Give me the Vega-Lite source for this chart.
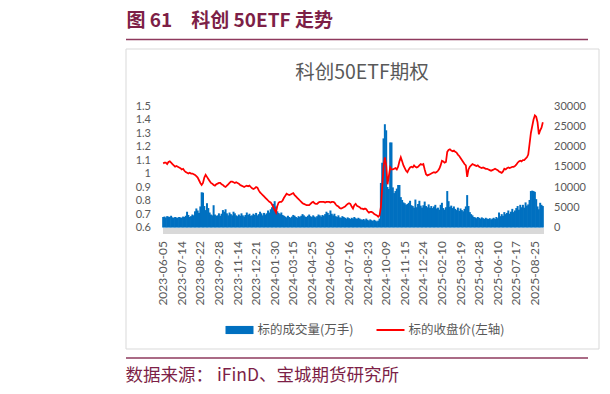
{
  "$schema": "https://vega.github.io/schema/vega-lite/v6.json",
  "padding": {"left": 124.5, "top": 12, "right": 0, "bottom": 0},
  "background": "white",
  "spacing": 9.5,
  "bounds": "flush",
  "config": {"view": {"stroke": null}, "font": "Noto Sans CJK SC"},
  "datasets": {
    "etf": [
      {"d":"2023-06-05","v":2600,"p":1.075},{"d":"2023-06-07","v":2700,"p":1.08},{"d":"2023-06-09","v":2500,"p":1.08},{"d":"2023-06-13","v":2800,"p":1.07},{"d":"2023-06-15","v":2700,"p":1.085},{"d":"2023-06-19","v":2600,"p":1.09},{"d":"2023-06-21","v":2900,"p":1.08},{"d":"2023-06-27","v":2500,"p":1.07},{"d":"2023-06-29","v":2400,"p":1.06},{"d":"2023-07-03","v":2600,"p":1.05},{"d":"2023-07-05","v":2500,"p":1.055},{"d":"2023-07-07","v":2400,"p":1.05},{"d":"2023-07-11","v":2600,"p":1.045},{"d":"2023-07-13","v":2500,"p":1.04},
      {"d":"2023-07-14","v":2400,"p":1.03},{"d":"2023-07-18","v":2700,"p":1.035},{"d":"2023-07-20","v":2600,"p":1.02},{"d":"2023-07-24","v":2900,"p":1.01},{"d":"2023-07-26","v":3900,"p":1.005},{"d":"2023-07-28","v":3100,"p":1.0},{"d":"2023-08-01","v":2600,"p":1.005},{"d":"2023-08-03","v":2800,"p":1.0},{"d":"2023-08-07","v":3200,"p":1.0},{"d":"2023-08-09","v":3000,"p":0.995},{"d":"2023-08-11","v":4000,"p":0.99},{"d":"2023-08-15","v":4700,"p":0.98},{"d":"2023-08-17","v":4200,"p":0.97},{"d":"2023-08-21","v":3600,"p":0.95},
      {"d":"2023-08-22","v":5200,"p":0.93},{"d":"2023-08-24","v":8700,"p":0.915},{"d":"2023-08-28","v":8600,"p":0.93},{"d":"2023-08-30","v":5300,"p":0.97},{"d":"2023-09-01","v":4300,"p":0.99},{"d":"2023-09-05","v":6000,"p":0.975},{"d":"2023-09-07","v":4800,"p":0.96},{"d":"2023-09-11","v":3700,"p":0.945},{"d":"2023-09-13","v":3200,"p":0.93},{"d":"2023-09-15","v":3000,"p":0.925},{"d":"2023-09-19","v":5500,"p":0.915},{"d":"2023-09-21","v":3200,"p":0.91},{"d":"2023-09-25","v":2900,"p":0.92},{"d":"2023-09-27","v":3000,"p":0.925},
      {"d":"2023-09-28","v":3500,"p":0.93},{"d":"2023-10-10","v":2900,"p":0.93},{"d":"2023-10-12","v":3400,"p":0.92},{"d":"2023-10-16","v":4300,"p":0.915},{"d":"2023-10-18","v":3900,"p":0.905},{"d":"2023-10-20","v":4500,"p":0.9},{"d":"2023-10-24","v":3500,"p":0.91},{"d":"2023-10-26","v":3000,"p":0.92},{"d":"2023-10-30","v":3700,"p":0.93},{"d":"2023-11-01","v":3300,"p":0.94},{"d":"2023-11-03","v":3000,"p":0.94},{"d":"2023-11-07","v":3900,"p":0.935},{"d":"2023-11-09","v":3500,"p":0.93},{"d":"2023-11-13","v":3000,"p":0.935},
      {"d":"2023-11-14","v":2800,"p":0.93},{"d":"2023-11-16","v":3200,"p":0.925},{"d":"2023-11-20","v":2900,"p":0.915},{"d":"2023-11-22","v":3500,"p":0.91},{"d":"2023-11-24","v":3000,"p":0.905},{"d":"2023-11-28","v":2700,"p":0.9},{"d":"2023-11-30","v":3100,"p":0.905},{"d":"2023-12-04","v":3700,"p":0.91},{"d":"2023-12-06","v":3100,"p":0.905},{"d":"2023-12-08","v":3400,"p":0.91},{"d":"2023-12-12","v":2900,"p":0.9},{"d":"2023-12-14","v":3000,"p":0.89},{"d":"2023-12-18","v":3400,"p":0.885},{"d":"2023-12-20","v":3100,"p":0.89},
      {"d":"2023-12-21","v":3600,"p":0.9},{"d":"2023-12-25","v":3000,"p":0.895},{"d":"2023-12-27","v":3300,"p":0.875},{"d":"2023-12-29","v":3900,"p":0.86},{"d":"2024-01-03","v":3500,"p":0.85},{"d":"2024-01-05","v":3000,"p":0.84},{"d":"2024-01-09","v":3600,"p":0.83},{"d":"2024-01-11","v":3200,"p":0.82},{"d":"2024-01-15","v":3500,"p":0.81},{"d":"2024-01-17","v":4200,"p":0.8},{"d":"2024-01-19","v":3700,"p":0.79},{"d":"2024-01-23","v":4500,"p":0.785},{"d":"2024-01-25","v":5000,"p":0.77},{"d":"2024-01-29","v":5800,"p":0.75},
      {"d":"2024-01-30","v":6500,"p":0.73},{"d":"2024-02-01","v":5200,"p":0.71},{"d":"2024-02-05","v":4000,"p":0.76},{"d":"2024-02-07","v":3600,"p":0.785},{"d":"2024-02-19","v":3300,"p":0.79},{"d":"2024-02-21","v":3700,"p":0.79},{"d":"2024-02-23","v":3100,"p":0.8},{"d":"2024-02-27","v":2900,"p":0.82},{"d":"2024-02-29","v":2700,"p":0.835},{"d":"2024-03-04","v":2500,"p":0.85},{"d":"2024-03-06","v":2900,"p":0.845},{"d":"2024-03-08","v":2600,"p":0.84},{"d":"2024-03-12","v":2400,"p":0.845},{"d":"2024-03-14","v":2700,"p":0.85},
      {"d":"2024-03-15","v":3100,"p":0.855},{"d":"2024-03-19","v":2900,"p":0.84},{"d":"2024-03-21","v":2600,"p":0.83},{"d":"2024-03-25","v":2400,"p":0.82},{"d":"2024-03-27","v":2800,"p":0.81},{"d":"2024-03-29","v":2600,"p":0.8},{"d":"2024-04-02","v":2900,"p":0.79},{"d":"2024-04-08","v":3300,"p":0.78},{"d":"2024-04-10","v":3000,"p":0.775},{"d":"2024-04-12","v":2700,"p":0.77},{"d":"2024-04-16","v":2600,"p":0.765},{"d":"2024-04-18","v":2900,"p":0.765},{"d":"2024-04-22","v":3200,"p":0.765},{"d":"2024-04-24","v":2800,"p":0.775},
      {"d":"2024-04-25","v":2600,"p":0.785},{"d":"2024-04-29","v":3000,"p":0.79},{"d":"2024-05-06","v":2700,"p":0.78},{"d":"2024-05-08","v":2500,"p":0.775},{"d":"2024-05-10","v":2800,"p":0.775},{"d":"2024-05-14","v":3200,"p":0.785},{"d":"2024-05-16","v":3000,"p":0.79},{"d":"2024-05-20","v":2700,"p":0.79},{"d":"2024-05-22","v":3100,"p":0.79},{"d":"2024-05-24","v":2900,"p":0.79},{"d":"2024-05-28","v":3300,"p":0.785},{"d":"2024-05-30","v":3900,"p":0.79},{"d":"2024-06-03","v":3600,"p":0.79},{"d":"2024-06-05","v":3100,"p":0.79},
      {"d":"2024-06-06","v":4200,"p":0.785},{"d":"2024-06-11","v":3400,"p":0.79},{"d":"2024-06-13","v":3000,"p":0.79},{"d":"2024-06-17","v":3400,"p":0.785},{"d":"2024-06-19","v":2800,"p":0.77},{"d":"2024-06-21","v":2600,"p":0.76},{"d":"2024-06-25","v":3000,"p":0.755},{"d":"2024-06-27","v":2500,"p":0.745},{"d":"2024-07-01","v":2400,"p":0.74},{"d":"2024-07-03","v":2800,"p":0.745},{"d":"2024-07-05","v":2600,"p":0.75},{"d":"2024-07-09","v":2400,"p":0.755},{"d":"2024-07-11","v":2200,"p":0.765},{"d":"2024-07-15","v":2500,"p":0.775},
      {"d":"2024-07-16","v":2300,"p":0.78},{"d":"2024-07-18","v":2100,"p":0.775},{"d":"2024-07-22","v":2400,"p":0.755},{"d":"2024-07-24","v":2200,"p":0.74},{"d":"2024-07-26","v":2600,"p":0.765},{"d":"2024-07-30","v":2300,"p":0.775},{"d":"2024-08-01","v":2100,"p":0.76},{"d":"2024-08-05","v":2400,"p":0.755},{"d":"2024-08-07","v":2200,"p":0.75},{"d":"2024-08-09","v":2000,"p":0.74},{"d":"2024-08-13","v":1900,"p":0.74},{"d":"2024-08-15","v":2100,"p":0.735},{"d":"2024-08-19","v":1800,"p":0.74},{"d":"2024-08-21","v":2200,"p":0.735},
      {"d":"2024-08-23","v":1900,"p":0.72},{"d":"2024-08-27","v":1700,"p":0.71},{"d":"2024-08-29","v":2000,"p":0.715},{"d":"2024-09-02","v":1800,"p":0.715},{"d":"2024-09-04","v":1600,"p":0.71},{"d":"2024-09-06","v":1900,"p":0.7},{"d":"2024-09-10","v":1700,"p":0.695},{"d":"2024-09-12","v":1500,"p":0.69},{"d":"2024-09-18","v":1700,"p":0.68},{"d":"2024-09-20","v":2200,"p":0.69},{"d":"2024-09-24","v":11000,"p":0.75},{"d":"2024-09-26","v":16000,"p":0.9},{"d":"2024-09-30","v":22000,"p":1.05},{"d":"2024-10-08","v":25500,"p":1.12},
      {"d":"2024-10-09","v":24000,"p":1.06},{"d":"2024-10-11","v":10000,"p":0.92},{"d":"2024-10-15","v":9500,"p":0.98},{"d":"2024-10-17","v":21000,"p":1.045},{"d":"2024-10-21","v":21000,"p":1.03},{"d":"2024-10-23","v":9900,"p":1.03},{"d":"2024-10-25","v":8500,"p":1.035},{"d":"2024-10-29","v":9000,"p":1.04},{"d":"2024-10-31","v":9600,"p":1.03},{"d":"2024-11-04","v":10500,"p":1.05},{"d":"2024-11-06","v":10500,"p":1.09},{"d":"2024-11-08","v":7500,"p":1.12},{"d":"2024-11-12","v":6800,"p":1.09},{"d":"2024-11-14","v":6200,"p":1.06},
      {"d":"2024-11-15","v":6000,"p":1.04},{"d":"2024-11-19","v":5600,"p":1.02},{"d":"2024-11-21","v":5800,"p":1.01},{"d":"2024-11-25","v":6100,"p":1.03},{"d":"2024-11-27","v":6600,"p":1.045},{"d":"2024-11-29","v":5500,"p":1.05},{"d":"2024-12-03","v":5300,"p":1.045},{"d":"2024-12-05","v":4900,"p":1.06},{"d":"2024-12-09","v":6900,"p":1.05},{"d":"2024-12-11","v":5000,"p":1.045},{"d":"2024-12-13","v":5800,"p":1.05},{"d":"2024-12-17","v":6600,"p":1.06},{"d":"2024-12-19","v":5400,"p":1.07},{"d":"2024-12-23","v":4900,"p":1.065},
      {"d":"2024-12-24","v":5500,"p":1.07},{"d":"2024-12-26","v":6400,"p":1.03},{"d":"2024-12-30","v":5300,"p":0.995},{"d":"2025-01-02","v":5000,"p":0.985},{"d":"2025-01-06","v":5700,"p":0.99},{"d":"2025-01-08","v":4900,"p":0.995},{"d":"2025-01-10","v":5300,"p":1.0},{"d":"2025-01-14","v":4800,"p":1.005},{"d":"2025-01-16","v":5200,"p":1.01},{"d":"2025-01-20","v":5600,"p":1.005},{"d":"2025-01-22","v":4700,"p":1.01},{"d":"2025-01-24","v":4900,"p":1.02},{"d":"2025-02-05","v":4400,"p":1.035},{"d":"2025-02-07","v":5600,"p":1.06},
      {"d":"2025-02-10","v":6100,"p":1.095},{"d":"2025-02-12","v":4800,"p":1.09},{"d":"2025-02-14","v":4400,"p":1.08},{"d":"2025-02-18","v":5000,"p":1.085},{"d":"2025-02-20","v":9000,"p":1.16},{"d":"2025-02-24","v":6500,"p":1.175},{"d":"2025-02-26","v":5100,"p":1.18},{"d":"2025-02-28","v":5400,"p":1.17},{"d":"2025-03-04","v":4800,"p":1.165},{"d":"2025-03-06","v":5200,"p":1.17},{"d":"2025-03-10","v":4600,"p":1.16},{"d":"2025-03-12","v":4300,"p":1.155},{"d":"2025-03-14","v":4900,"p":1.14},{"d":"2025-03-18","v":4100,"p":1.13},
      {"d":"2025-03-19","v":4700,"p":1.115},{"d":"2025-03-21","v":4300,"p":1.1},{"d":"2025-03-25","v":4000,"p":1.085},{"d":"2025-03-27","v":4600,"p":1.07},{"d":"2025-03-31","v":5200,"p":1.06},{"d":"2025-04-02","v":8000,"p":0.975},{"d":"2025-04-07","v":5300,"p":1.03},{"d":"2025-04-09","v":3800,"p":1.05},{"d":"2025-04-11","v":3300,"p":1.06},{"d":"2025-04-15","v":3000,"p":1.07},{"d":"2025-04-17","v":2600,"p":1.065},{"d":"2025-04-21","v":2500,"p":1.06},{"d":"2025-04-23","v":2300,"p":1.055},{"d":"2025-04-25","v":2600,"p":1.06},
      {"d":"2025-04-28","v":2400,"p":1.05},{"d":"2025-04-30","v":2200,"p":1.045},{"d":"2025-05-07","v":2500,"p":1.04},{"d":"2025-05-09","v":2300,"p":1.045},{"d":"2025-05-13","v":2100,"p":1.04},{"d":"2025-05-15","v":2400,"p":1.035},{"d":"2025-05-19","v":2200,"p":1.035},{"d":"2025-05-21","v":2100,"p":1.03},{"d":"2025-05-23","v":2300,"p":1.025},{"d":"2025-05-27","v":2000,"p":1.02},{"d":"2025-05-29","v":2200,"p":1.025},{"d":"2025-06-03","v":2400,"p":1.03},{"d":"2025-06-05","v":2100,"p":1.035},{"d":"2025-06-09","v":2600,"p":1.03},
      {"d":"2025-06-10","v":2300,"p":1.025},{"d":"2025-06-12","v":3700,"p":1.015},{"d":"2025-06-16","v":2800,"p":1.01},{"d":"2025-06-18","v":3300,"p":1.005},{"d":"2025-06-20","v":2900,"p":1.015},{"d":"2025-06-24","v":3800,"p":1.035},{"d":"2025-06-26","v":3300,"p":1.03},{"d":"2025-06-30","v":3600,"p":1.04},{"d":"2025-07-02","v":4200,"p":1.045},{"d":"2025-07-04","v":3400,"p":1.04},{"d":"2025-07-08","v":3900,"p":1.045},{"d":"2025-07-10","v":4600,"p":1.05},{"d":"2025-07-14","v":3800,"p":1.05},{"d":"2025-07-16","v":4200,"p":1.055},
      {"d":"2025-07-17","v":4800,"p":1.065},{"d":"2025-07-21","v":5300,"p":1.08},{"d":"2025-07-23","v":4400,"p":1.09},{"d":"2025-07-25","v":5600,"p":1.095},{"d":"2025-07-29","v":5000,"p":1.09},{"d":"2025-07-31","v":5600,"p":1.1},{"d":"2025-08-04","v":4900,"p":1.1},{"d":"2025-08-06","v":6200,"p":1.11},{"d":"2025-08-08","v":5400,"p":1.12},{"d":"2025-08-12","v":5700,"p":1.14},{"d":"2025-08-14","v":6800,"p":1.22},{"d":"2025-08-18","v":9000,"p":1.3},{"d":"2025-08-20","v":9100,"p":1.35},{"d":"2025-08-22","v":9000,"p":1.4},
      {"d":"2025-08-25","v":8800,"p":1.43},{"d":"2025-08-27","v":7000,"p":1.42},{"d":"2025-08-29","v":5200,"p":1.38},{"d":"2025-09-02","v":4500,"p":1.29},{"d":"2025-09-04","v":6100,"p":1.32},{"d":"2025-09-08","v":5600,"p":1.34},{"d":"2025-09-10","v":5300,"p":1.38}
    ]
  },
  "vconcat": [
    {
      "width": 462,
      "height": 0,
      "data": {"values": []},
      "mark": {"type": "point", "opacity": 0},
      "encoding": {
        "x": {"field": "a", "type": "quantitative", "scale": {"domain": [0, 1]},
          "axis": {"labels": false, "ticks": false, "grid": false, "title": null, "domainColor": "#8E3A5E", "domainWidth": 1.5}}
      },
      "title": {"text": "图 61　科创 50ETF 走势", "anchor": "start", "frame": "group", "dx": 1, "offset": -12, "fontSize": 19, "font": "Noto Sans CJK SC", "fontWeight": "bold", "color": "#7D1F47"}
    },
    {
      "width": 473,
      "height": 300,
      "view": {"stroke": "#D9D9D9", "strokeWidth": 1},
      "data": {"name": "etf"},
      "title": {"text": "科创50ETF期权", "anchor": "middle", "offset": -34.5, "fontSize": 19.5, "font": "Noto Sans CJK SC", "fontWeight": "normal", "color": "#595959"},
      "encoding": {
        "x": {"field": "d", "type": "ordinal", "sort": null,
          "scale": {"paddingInner": 0, "paddingOuter": 0, "range": [37, 418]},
          "axis": {"values": ["2023-06-05","2023-07-14","2023-08-22","2023-09-28","2023-11-14","2023-12-21","2024-01-30","2024-03-15","2024-04-25","2024-06-06","2024-07-16","2024-08-23","2024-10-09","2024-11-15","2024-12-24","2025-02-10","2025-03-19","2025-04-28","2025-06-10","2025-07-17","2025-08-25"],
            "labelAngle": -90, "labelFont": "Lato", "labelFontSize": 12, "labelColor": "#595959", "labelPadding": 10,
            "ticks": false, "grid": false, "title": null, "domainColor": "#D9D9D9", "domainWidth": 6, "offset": -118}}
      },
      "layer": [
        {
          "mark": {"type": "bar", "color": "#0070C0", "width": {"band": 1.5}},
          "encoding": {
            "y": {"field": "v", "type": "quantitative", "scale": {"domain": [0, 30000], "nice": false, "range": [179, 57.5]},
              "axis": {"orient": "right", "offset": -55, "values": [0, 5000, 10000, 15000, 20000, 25000, 30000], "format": "d", "labelFont": "Lato", "labelFontSize": 11, "labelColor": "#595959", "labelPadding": 10, "domain": false, "ticks": false, "grid": false, "title": null}},
            "color": {"datum": "标的成交量(万手)",
              "scale": {"range": ["#0070C0"]},
              "legend": {"orient": "none", "legendX": 99, "legendY": 296, "direction": "horizontal", "title": null,
                "symbolType": "M-1,-0.29H1V0.29H-1Z", "symbolSize": 784, "padding": 0,
                "labelFont": "Noto Sans CJK SC", "labelFontSize": 12.5, "labelColor": "#595959", "labelOffset": 3}}
          }
        },
        {
          "mark": {"type": "line", "strokeWidth": 1.75},
          "encoding": {
            "y": {"field": "p", "type": "quantitative", "scale": {"domain": [0.6, 1.5], "nice": false, "zero": false, "range": [179, 57.5]},
              "axis": {"orient": "left", "offset": -37, "values": [0.6, 0.7, 0.8, 0.9, 1.0, 1.1, 1.2, 1.3, 1.4, 1.5], "format": ".1~f", "labelFont": "Lato", "labelFontSize": 11, "labelColor": "#595959", "labelPadding": 12, "domain": false, "ticks": false, "grid": false, "title": null}},
            "stroke": {"datum": "标的收盘价(左轴)",
              "scale": {"range": ["#FF0000"]},
              "legend": {"orient": "none", "legendX": 250, "legendY": 296, "direction": "horizontal", "title": null,
                "symbolType": "stroke", "symbolSize": 784, "symbolStrokeWidth": 2, "padding": 0,
                "labelFont": "Noto Sans CJK SC", "labelFontSize": 12.5, "labelColor": "#595959", "labelOffset": 3}}
          }
        }
      ],
      "resolve": {"scale": {"y": "independent"}}
    },
    {
      "width": 462,
      "height": 0,
      "data": {"values": []},
      "mark": {"type": "point", "opacity": 0},
      "encoding": {
        "x": {"field": "a", "type": "quantitative", "scale": {"domain": [0, 1]},
          "axis": {"orient": "bottom", "offset": -20.5, "labels": false, "ticks": false, "grid": false, "title": null, "domainColor": "#8E3A5E", "domainWidth": 1.5}}
      },
      "title": {"text": "数据来源： iFinD、宝城期货研究所", "orient": "bottom", "anchor": "start", "frame": "group", "dx": 0, "offset": -11, "fontSize": 17.5, "font": "Noto Sans CJK SC", "fontWeight": "normal", "color": "#7D1F47"}
    }
  ]
}
